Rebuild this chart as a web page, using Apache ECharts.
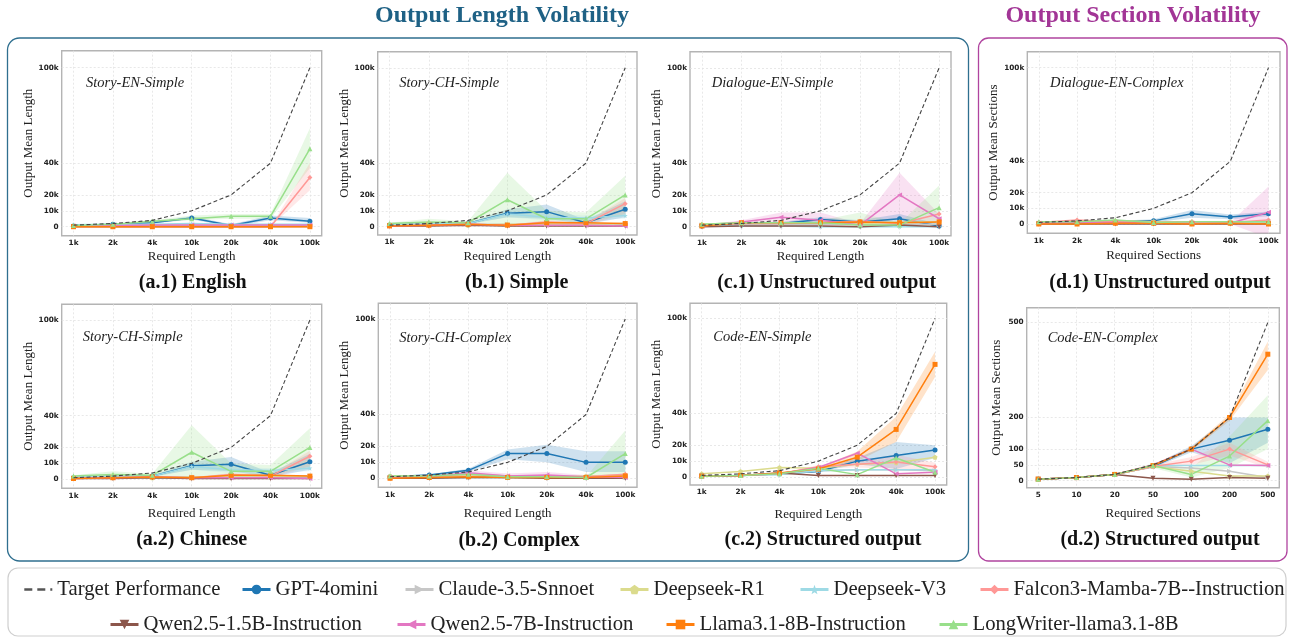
<!DOCTYPE html>
<html>
<head>
<meta charset="utf-8">
<script src="https://cdn.jsdelivr.net/npm/echarts@6/dist/echarts.min.js"></script>
<style>
html,body{margin:0;padding:0;background:#fff;}
#chart{width:1291px;height:638px;}
</style>
</head>
<body>
<div id="chart"></div>
<script>
// ---------- categories & ticks ----------
const lengthCats = ['1k','2k','4k','10k','20k','40k','100k'];
const sectionCats = ['5','10','20','50','100','200','500'];
const lengthTicks = [0, 10000, 20000, 40000, 100000];
const lengthTickLabels = ['0','10k','20k','40k','100k'];
const sectionTicks = [0, 50, 100, 200, 500];
const sectionTickLabels = ['0','50','100','200','500'];
const targetLength = [1000, 2000, 4000, 10000, 20000, 40000, 100000];
const targetSections = [5, 10, 20, 50, 100, 200, 500];

const modelNames = ['GPT-4omini','Claude-3.5-Snnoet','Deepseek-R1','Deepseek-V3','Falcon3-Mamba-7B--Instruction','Qwen2.5-1.5B-Instruction','Qwen2.5-7B-Instruction','Llama3.1-8B-Instruction','LongWriter-llama3.1-8B'];
const targetName = 'Target Performance';

// ---------- Story-EN-Simple ----------
const storyEnSimple_gpt        = [500, 1500, 2500, 5500, 800, 5500, 3500];
const storyEnSimple_claude     = [300, 500, 800, 1000, 1000, 1000, 1000];
const storyEnSimple_r1         = [200, 300, 300, 300, 300, 300, 300];
const storyEnSimple_v3         = [1200, 1500, 1500, 2000, 1500, 1500, 1500];
const storyEnSimple_falcon     = [0, 0, 0, 0, 0, 0, 31000];
const storyEnSimple_qwen15     = [100, 100, 200, 200, 200, 200, 200];
const storyEnSimple_qwen7      = [500, 800, 1000, 1000, 1000, 1000, 1000];
const storyEnSimple_llama      = [0, 0, 0, 0, 0, 0, 0];
const storyEnSimple_longwriter = [800, 1500, 3500, 5000, 6500, 6500, 49000];
const storyEnSimple_gptLo = [500, 1500, 2000, 4500, 0, 4000, 2500];
const storyEnSimple_gptHi = [500, 1500, 3000, 6500, 1500, 7000, 5500];
const storyEnSimple_lwLo  = [800, 1500, 3000, 4000, 5000, 5000, 37000];
const storyEnSimple_lwHi  = [800, 1500, 4000, 7000, 8000, 8000, 62000];
const storyEnSimple_faLo  = [0, 0, 0, 0, 0, 0, 23000];
const storyEnSimple_faHi  = [0, 0, 0, 0, 0, 0, 40000];

// ---------- Story-CH-Simple ----------
const storyChSimple_gpt        = [1000, 1500, 2000, 8500, 9500, 2500, 11000];
const storyChSimple_claude     = [1000, 1500, 1500, 1500, 1500, 1500, 1500];
const storyChSimple_r1         = [1500, 2500, 1000, 1500, 1500, 1500, 2000];
const storyChSimple_v3         = [1500, 2000, 2000, 8000, 6000, 5500, 7000];
const storyChSimple_falcon     = [500, 1000, 1500, 1000, 3000, 2000, 14500];
const storyChSimple_qwen15     = [500, 500, 1000, 500, 500, 500, 500];
const storyChSimple_qwen7      = [500, 1000, 1500, 1000, 1000, 1000, 500];
const storyChSimple_llama      = [500, 1000, 1500, 1000, 2500, 2500, 2000];
const storyChSimple_longwriter = [2000, 3000, 2500, 17000, 5000, 5000, 20000];
const storyChSimple_gptLo = [800, 1200, 1500, 6000, 5000, 1500, 6000];
const storyChSimple_gptHi = [1200, 1800, 2500, 11000, 14000, 4000, 16000];
const storyChSimple_lwLo  = [1500, 2000, 1500, 0, 1000, 2000, 8000];
const storyChSimple_lwHi  = [2500, 5000, 3500, 34000, 10000, 9000, 32000];
const storyChSimple_faLo  = [500, 1000, 1500, 1000, 2000, 1000, 8000];
const storyChSimple_faHi  = [500, 1000, 1500, 1000, 4000, 3000, 18000];
const storyChSimple_v3Lo  = [1500, 2000, 2000, 6000, 4000, 4000, 5000];
const storyChSimple_v3Hi  = [1500, 2000, 2000, 10000, 8000, 7000, 9000];

// ---------- Dialogue-EN-Simple ----------
const dialogEnSimple_gpt        = [500, 1500, 2000, 4500, 3000, 5000, 500];
const dialogEnSimple_claude     = [1000, 1500, 1500, 1500, 1500, 1500, 1500];
const dialogEnSimple_r1         = [1500, 2500, 2500, 2500, 2000, 3000, 3000];
const dialogEnSimple_v3         = [500, 500, 500, 0, 0, 0, 0];
const dialogEnSimple_falcon     = [1000, 2000, 2000, 2500, 3500, 2000, 8000];
const dialogEnSimple_qwen15     = [0, 500, 500, 500, 0, 1000, 0];
const dialogEnSimple_qwen7      = [500, 3000, 6000, 4000, 1000, 20000, 5000];
const dialogEnSimple_llama      = [500, 2500, 2500, 2500, 3000, 2500, 3000];
const dialogEnSimple_longwriter = [1500, 2500, 2500, 2500, 1000, 1000, 12000];
const dialogEnSimple_q7Lo  = [0, 2000, 3000, 0, 0, 5000, 2000];
const dialogEnSimple_q7Hi  = [1000, 4000, 9000, 9000, 2000, 34000, 8000];
const dialogEnSimple_gptLo = [0, 1000, 1000, 3000, 2000, 3000, 0];
const dialogEnSimple_gptHi = [1000, 2000, 3000, 6000, 4000, 8000, 1500];
const dialogEnSimple_lwLo  = [1000, 2000, 2000, 1000, 0, 0, 0];
const dialogEnSimple_lwHi  = [2000, 3000, 3000, 4000, 9000, 2000, 26000];

// ---------- Dialogue-EN-Complex ----------
const dialogEnComplex_gpt        = [500, 500, 1500, 2000, 6500, 4500, 6500];
const dialogEnComplex_claude     = [500, 1000, 1000, 1000, 1000, 1000, 1000];
const dialogEnComplex_r1         = [1000, 1500, 2000, 1500, 1500, 1500, 1500];
const dialogEnComplex_v3         = [500, 500, 500, 500, 500, 500, 500];
const dialogEnComplex_falcon     = [1000, 2500, 1500, 1000, 1500, 1000, 2500];
const dialogEnComplex_qwen15     = [0, 0, 0, 0, 0, 0, 0];
const dialogEnComplex_qwen7      = [500, 1000, 1000, 500, 500, 500, 7500];
const dialogEnComplex_llama      = [0, 0, 500, 500, 0, 500, 0];
const dialogEnComplex_longwriter = [1500, 1500, 2500, 1000, 1500, 1500, 1500];
const dialogEnComplex_gptLo = [0, 0, 1000, 1000, 4000, 3000, 5000];
const dialogEnComplex_gptHi = [1000, 1000, 2000, 3000, 9000, 6000, 8000];
const dialogEnComplex_q7Lo  = [0, 0, 0, 0, 0, 0, -9000];
const dialogEnComplex_q7Hi  = [1000, 2000, 2000, 1000, 1000, 1000, 24000];

// ---------- Story-CH-Complex ----------
const storyChComplex_gpt        = [1000, 2000, 5000, 15500, 15500, 10000, 10000];
const storyChComplex_claude     = [500, 500, 500, 500, 500, 500, 500];
const storyChComplex_r1         = [1500, 1500, 1500, 1000, 1000, 1500, 2000];
const storyChComplex_v3         = [500, 500, 500, 500, 500, 500, 500];
const storyChComplex_falcon     = [500, 1000, 2500, 1500, 1000, 1000, 2500];
const storyChComplex_qwen15     = [0, 0, 500, 500, 0, 0, 0];
const storyChComplex_qwen7      = [500, 1000, 3500, 1500, 2000, 1000, 500];
const storyChComplex_llama      = [0, 500, 1000, 500, 500, 500, 1500];
const storyChComplex_longwriter = [1500, 1500, 2500, 1000, 1000, 500, 15500];
const storyChComplex_gptLo = [500, 1500, 4000, 12000, 10000, 4000, 4000];
const storyChComplex_gptHi = [1500, 2500, 6000, 18000, 21000, 17000, 17000];
const storyChComplex_lwLo  = [1000, 1000, 2000, 0, 0, 0, 2000];
const storyChComplex_lwHi  = [2000, 2000, 3000, 2000, 2000, 1000, 30000];
const storyChComplex_q7Lo  = [0, 500, 2000, 500, 500, 500, 0];
const storyChComplex_q7Hi  = [1000, 1500, 5000, 3000, 4000, 2000, 1000];

// ---------- Code-EN-Simple ----------
const codeEnSimple_gpt        = [500, 1000, 2000, 3500, 10000, 13500, 17000];
const codeEnSimple_claude     = [500, 1000, 2000, 4000, 4500, 4500, 4000];
const codeEnSimple_r1         = [2000, 3500, 6000, 5500, 8000, 9000, 12500];
const codeEnSimple_v3         = [500, 1000, 1500, 4000, 4500, 4500, 4500];
const codeEnSimple_falcon     = [500, 1000, 2000, 6500, 8000, 9500, 6500];
const codeEnSimple_qwen15     = [500, 1000, 2500, 1000, 1000, 1000, 1000];
const codeEnSimple_qwen7      = [500, 1000, 2000, 6000, 15000, 2000, 3000];
const codeEnSimple_llama      = [500, 1000, 2500, 5000, 12500, 30000, 71000];
const codeEnSimple_longwriter = [500, 1000, 2000, 5500, 1500, 12000, 3000];
const codeEnSimple_llLo  = [500, 1000, 2000, 4000, 10000, 22000, 63000];
const codeEnSimple_llHi  = [500, 1000, 3000, 6000, 16000, 38000, 79000];
const codeEnSimple_gptLo = [500, 1000, 1500, 3000, 8000, 5000, 12000];
const codeEnSimple_gptHi = [500, 1000, 2500, 4000, 12000, 22000, 20000];
const codeEnSimple_faLo  = [500, 1000, 2000, 5500, 6000, 5000, 4000];
const codeEnSimple_faHi  = [500, 1000, 2000, 7500, 10000, 14000, 9000];

// ---------- Code-EN-Complex ----------
const codeEnComplex_gpt        = [5, 10, 20, 45, 100, 128, 163];
const codeEnComplex_claude     = [5, 10, 20, 45, 40, 30, 10];
const codeEnComplex_r1         = [5, 10, 20, 45, 30, 15, 15];
const codeEnComplex_v3         = [5, 10, 20, 48, 48, 48, 48];
const codeEnComplex_falcon     = [5, 10, 20, 45, 62, 100, 50];
const codeEnComplex_qwen15     = [5, 10, 20, 8, 5, 10, 8];
const codeEnComplex_qwen7      = [5, 10, 20, 50, 100, 50, 48];
const codeEnComplex_llama      = [5, 10, 20, 48, 100, 200, 400];
const codeEnComplex_longwriter = [5, 10, 20, 48, 20, 78, 190];
const codeEnComplex_llLo  = [5, 10, 20, 45, 95, 190, 350];
const codeEnComplex_llHi  = [5, 10, 20, 52, 105, 210, 440];
const codeEnComplex_gptLo = [5, 10, 20, 40, 90, 55, 120];
const codeEnComplex_gptHi = [5, 10, 20, 50, 110, 200, 200];
const codeEnComplex_lwLo  = [5, 10, 20, 40, 10, 40, 100];
const codeEnComplex_lwHi  = [5, 10, 20, 55, 40, 140, 270];
const codeEnComplex_faLo  = [5, 10, 20, 40, 50, 80, 40];
const codeEnComplex_faHi  = [5, 10, 20, 50, 75, 120, 60];

// ---------- styles ----------
const SERIF = '"Liberation Serif","Times New Roman",serif';
const SANS = '"DejaVu Sans",sans-serif';
const modelColors = ['#1f77b4','#c7c7c7','#dbdb8d','#9edae5','#ff9896','#8c564b','#e377c2','#ff7f0e','#98df8a'];
const PENT = 'path://M0,-10L9.51,-3.09L5.88,8.09L-5.88,8.09L-9.51,-3.09Z';
const STAR = 'path://M0,-10L2.35,-3.24L9.51,-3.09L3.8,1.24L5.88,8.09L0,4L-5.88,8.09L-3.8,1.24L-9.51,-3.09L-2.35,-3.24Z';
const modelSymbols = [['circle',0],['triangle',-90],[PENT,0],[STAR,0],['diamond',0],['triangle',180],['triangle',90],['rect',0],['triangle',0]];

function pack(gpt, claude, r1, v3, falcon, q15, q7, llama, lw) {
  return [gpt, claude, r1, v3, falcon, q15, q7, llama, lw];
}

const panels = [
  {left:61.7, top:50.7, right:321.7, bottom:235.7, ymin:-5660, ymax:110700, xGap:14, yGap:27,
   caption:'(a.1) English', capX:192.7, capY:283, title:'Story-EN-Simple', tX:86, tY:82.7, sections:false,
   models: pack(storyEnSimple_gpt, storyEnSimple_claude, storyEnSimple_r1, storyEnSimple_v3, storyEnSimple_falcon, storyEnSimple_qwen15, storyEnSimple_qwen7, storyEnSimple_llama, storyEnSimple_longwriter),
   bands: [[0, storyEnSimple_gptLo, storyEnSimple_gptHi],[8, storyEnSimple_lwLo, storyEnSimple_lwHi],[4, storyEnSimple_faLo, storyEnSimple_faHi]]},
  {left:377.7, top:51.7, right:637, bottom:235, ymin:-5200, ymax:110100, xGap:15, yGap:23,
   caption:'(b.1) Simple', capX:516.7, capY:283, title:'Story-CH-Simple', tX:399.3, tY:82.7, sections:false,
   models: pack(storyChSimple_gpt, storyChSimple_claude, storyChSimple_r1, storyChSimple_v3, storyChSimple_falcon, storyChSimple_qwen15, storyChSimple_qwen7, storyChSimple_llama, storyChSimple_longwriter),
   bands: [[0, storyChSimple_gptLo, storyChSimple_gptHi],[8, storyChSimple_lwLo, storyChSimple_lwHi],[4, storyChSimple_faLo, storyChSimple_faHi],[3, storyChSimple_v3Lo, storyChSimple_v3Hi]]},
  {left:690, top:51.7, right:951, bottom:235.7, ymin:-5660, ymax:110100, xGap:14.5, yGap:18.5,
   caption:'(c.1) Unstructured output', capX:826.7, capY:283, title:'Dialogue-EN-Simple', tX:711.7, tY:82.7, sections:false,
   models: pack(dialogEnSimple_gpt, dialogEnSimple_claude, dialogEnSimple_r1, dialogEnSimple_v3, dialogEnSimple_falcon, dialogEnSimple_qwen15, dialogEnSimple_qwen7, dialogEnSimple_llama, dialogEnSimple_longwriter),
   bands: [[6, dialogEnSimple_q7Lo, dialogEnSimple_q7Hi],[0, dialogEnSimple_gptLo, dialogEnSimple_gptHi],[8, dialogEnSimple_lwLo, dialogEnSimple_lwHi]]},
  {left:1027.3, top:51.7, right:1280, bottom:233.3, ymin:-5950, ymax:110200, xGap:16, yGap:23,
   caption:'(d.1) Unstructured output', capX:1160, capY:283, title:'Dialogue-EN-Complex', tX:1050, tY:83, sections:false, secNames:true,
   models: pack(dialogEnComplex_gpt, dialogEnComplex_claude, dialogEnComplex_r1, dialogEnComplex_v3, dialogEnComplex_falcon, dialogEnComplex_qwen15, dialogEnComplex_qwen7, dialogEnComplex_llama, dialogEnComplex_longwriter),
   bands: [[0, dialogEnComplex_gptLo, dialogEnComplex_gptHi],[6, dialogEnComplex_q7Lo, dialogEnComplex_q7Hi]]},
  {left:61.7, top:304.3, right:321.7, bottom:488.3, ymin:-5650, ymax:109900, xGap:19, yGap:27,
   caption:'(a.2) Chinese', capX:191.7, capY:540, title:'Story-CH-Simple', tX:82.7, tY:337.3, sections:false,
   models: pack(storyChSimple_gpt, storyChSimple_claude, storyChSimple_r1, storyChSimple_v3, storyChSimple_falcon, storyChSimple_qwen15, storyChSimple_qwen7, storyChSimple_llama, storyChSimple_longwriter),
   bands: [[0, storyChSimple_gptLo, storyChSimple_gptHi],[8, storyChSimple_lwLo, storyChSimple_lwHi],[4, storyChSimple_faLo, storyChSimple_faHi],[3, storyChSimple_v3Lo, storyChSimple_v3Hi]]},
  {left:378.3, top:303.3, right:637, bottom:487.3, ymin:-5650, ymax:109800, xGap:20, yGap:24.5,
   caption:'(b.2) Complex', capX:519, capY:540.7, title:'Story-CH-Complex', tX:399.3, tY:337.7, sections:false,
   models: pack(storyChComplex_gpt, storyChComplex_claude, storyChComplex_r1, storyChComplex_v3, storyChComplex_falcon, storyChComplex_qwen15, storyChComplex_qwen7, storyChComplex_llama, storyChComplex_longwriter),
   bands: [[0, storyChComplex_gptLo, storyChComplex_gptHi],[8, storyChComplex_lwLo, storyChComplex_lwHi],[6, storyChComplex_q7Lo, storyChComplex_q7Hi]]},
  {left:690, top:303.3, right:946.7, bottom:485, ymin:-5040, ymax:109500, xGap:23.5, yGap:23.5,
   caption:'(c.2) Structured output', capX:823, capY:540, title:'Code-EN-Simple', tX:713.3, tY:337.3, sections:false,
   models: pack(codeEnSimple_gpt, codeEnSimple_claude, codeEnSimple_r1, codeEnSimple_v3, codeEnSimple_falcon, codeEnSimple_qwen15, codeEnSimple_qwen7, codeEnSimple_llama, codeEnSimple_longwriter),
   bands: [[7, codeEnSimple_llLo, codeEnSimple_llHi],[0, codeEnSimple_gptLo, codeEnSimple_gptHi],[4, codeEnSimple_faLo, codeEnSimple_faHi]]},
  {left:1026.7, top:307.7, right:1279.3, bottom:487.7, ymin:-22, ymax:547, xGap:19, yGap:23.5,
   caption:'(d.2) Structured output', capX:1160, capY:540, title:'Code-EN-Complex', tX:1047.7, tY:337.7, sections:true, secNames:true,
   models: pack(codeEnComplex_gpt, codeEnComplex_claude, codeEnComplex_r1, codeEnComplex_v3, codeEnComplex_falcon, codeEnComplex_qwen15, codeEnComplex_qwen7, codeEnComplex_llama, codeEnComplex_longwriter),
   bands: [[7, codeEnComplex_llLo, codeEnComplex_llHi],[0, codeEnComplex_gptLo, codeEnComplex_gptHi],[8, codeEnComplex_lwLo, codeEnComplex_lwHi],[4, codeEnComplex_faLo, codeEnComplex_faHi]]}
];

const W = 1291, H = 638;
const idx = [0,1,2,3,4,5,6];

function bandRender(params, api) {
  if (params.dataIndexInside !== 0) return null;
  const n = params.dataInsideLength;
  const lo = [], hi = [];
  for (let i = 0; i < n; i++) {
    const x = api.value(0, i);
    lo.push(api.coord([x, api.value(1, i)]));
    hi.push(api.coord([x, api.value(2, i)]));
  }
  return {
    type: 'polygon',
    shape: { points: lo.concat(hi.reverse()) },
    style: { fill: api.visual('color'), opacity: 0.22 },
    silent: true
  };
}

const grids = [], xAxes = [], yAxes = [], series = [], graphics = [];

panels.forEach((p, g) => {
  const cats = p.sections ? sectionCats : lengthCats;
  const yt = p.sections ? sectionTicks : lengthTicks;
  const ytl = p.sections ? sectionTickLabels : lengthTickLabels;
  const target = p.sections ? targetSections : targetLength;
  grids.push({
    left: p.left, top: p.top, width: p.right - p.left, height: p.bottom - p.top,
    show: true, borderColor: '#b4b4b4', borderWidth: 1.4, backgroundColor: '#fff', containLabel: false
  });
  xAxes.push({
    type: 'value', gridIndex: g, min: -0.3, max: 6.3,
    name: p.secNames ? 'Required Sections' : 'Required Length',
    nameLocation: 'middle', nameGap: p.xGap,
    nameTextStyle: { fontFamily: SERIF, fontSize: 13, color: '#222' },
    axisLine: { show: false },
    axisTick: { show: false, customValues: idx },
    axisLabel: { customValues: idx, formatter: v => cats[Math.round(v)], fontFamily: SANS, fontWeight: 'bold', fontSize: 7.3, color: '#222', margin: 4 },
    splitLine: { show: true, lineStyle: { color: '#e2e2e2', type: [2, 2], width: 0.8 } }
  });
  yAxes.push({
    type: 'value', gridIndex: g, min: p.ymin, max: p.ymax,
    name: p.secNames ? 'Output Mean Sections' : 'Output Mean Length',
    nameLocation: 'middle', nameGap: p.yGap,
    nameTextStyle: { fontFamily: SERIF, fontSize: 13, color: '#222' },
    axisLine: { show: false },
    axisTick: { show: false, customValues: yt },
    axisLabel: { customValues: yt, formatter: v => ytl[yt.indexOf(v)] !== undefined ? ytl[yt.indexOf(v)] : '', fontFamily: SANS, fontWeight: 'bold', fontSize: 7.3, color: '#222', margin: 3 },
    splitLine: { show: true, lineStyle: { color: '#e2e2e2', type: [2, 2], width: 0.8 } }
  });
  p.bands.forEach(b => {
    const m = b[0], lo = b[1], hi = b[2];
    series.push({
      type: 'custom', name: modelNames[m] + ' band', xAxisIndex: g, yAxisIndex: g,
      renderItem: bandRender, clip: true, silent: true, z: 1,
      itemStyle: { color: modelColors[m] },
      data: idx.map(i => [i, lo[i], hi[i]])
    });
  });
  p.models.forEach((vals, m) => {
    series.push({
      type: 'line', name: modelNames[m], xAxisIndex: g, yAxisIndex: g,
      data: idx.map(i => [i, vals[i]]),
      symbol: modelSymbols[m][0], symbolRotate: modelSymbols[m][1], symbolSize: 5,
      showSymbol: true,
      lineStyle: { color: modelColors[m], width: 1.5 },
      itemStyle: { color: modelColors[m] },
      z: 3, silent: true, animation: false
    });
  });
  series.push({
    type: 'line', name: targetName, xAxisIndex: g, yAxisIndex: g,
    data: idx.map(i => [i, target[i]]),
    symbol: 'none', lineStyle: { color: '#444', width: 1.1, type: [4, 2.5] },
    itemStyle: { color: '#444' }, z: 5, silent: true, animation: false
  });
  graphics.push({ type: 'text', x: p.tX, y: p.tY, silent: true,
    style: { text: p.title, font: 'italic 14.5px ' + SERIF, fill: '#222', align: 'left', verticalAlign: 'middle' } });
  graphics.push({ type: 'text', x: p.capX, y: p.capY, silent: true,
    style: { text: p.caption, font: 'bold 20px ' + SERIF, fill: '#111', align: 'center', verticalAlign: 'middle' } });
});

graphics.push({ type: 'rect', shape: { x: 7.5, y: 38, width: 961, height: 523, r: 12 }, silent: true, z: -10,
  style: { fill: 'none', stroke: '#2f6f8f', lineWidth: 1.3 } });
graphics.push({ type: 'rect', shape: { x: 978.5, y: 38, width: 308.5, height: 523, r: 10 }, silent: true, z: -10,
  style: { fill: 'none', stroke: '#b0449f', lineWidth: 1.3 } });
graphics.push({ type: 'rect', shape: { x: 8, y: 568, width: 1278, height: 68, r: 10 }, silent: true, z: -10,
  style: { fill: 'none', stroke: '#cfcfcf', lineWidth: 1.2 } });
graphics.push({ type: 'text', x: 502, y: 16, silent: true,
  style: { text: 'Output Length Volatility', font: 'bold 24px ' + SERIF, fill: '#1e6185', align: 'center', verticalAlign: 'middle' } });
graphics.push({ type: 'text', x: 1133, y: 16, silent: true,
  style: { text: 'Output Section Volatility', font: 'bold 24px ' + SERIF, fill: '#a23596', align: 'center', verticalAlign: 'middle' } });

// legends: one per item for exact placement (x = icon left, y = row centre)
const legendPos = [
  [targetName, 23, 587], [modelNames[0], 241, 587], [modelNames[1], 404, 587], [modelNames[2], 619, 587],
  [modelNames[3], 799, 587], [modelNames[4], 979, 587],
  [modelNames[5], 109, 622], [modelNames[6], 396, 622], [modelNames[7], 665, 622], [modelNames[8], 938, 622]
];
const legends = legendPos.map(l => ({
  data: [l[0] === targetName
    ? { name: l[0], itemStyle: { color: 'rgba(0,0,0,0)', borderColor: 'rgba(0,0,0,0)', borderWidth: 0 },
        lineStyle: { width: 2.6, type: [8, 5], color: '#555' } }
    : l[0]],
  left: l[1], top: l[2] - 8, itemWidth: 28, itemHeight: 12, itemGap: 0,
  selectedMode: false, padding: 0,
  lineStyle: { width: 3 },
  textStyle: { fontFamily: SERIF, fontSize: 20.7, color: '#222', padding: [0, 0, 0, 0] }
}));

const chart = echarts.init(document.getElementById('chart'), null, { renderer: 'canvas', width: W, height: H });
chart.setOption({
  animation: false,
  backgroundColor: '#fff',
  grid: grids, xAxis: xAxes, yAxis: yAxes,
  legend: legends,
  series: series,
  graphic: graphics
});
</script>
</body>
</html>
